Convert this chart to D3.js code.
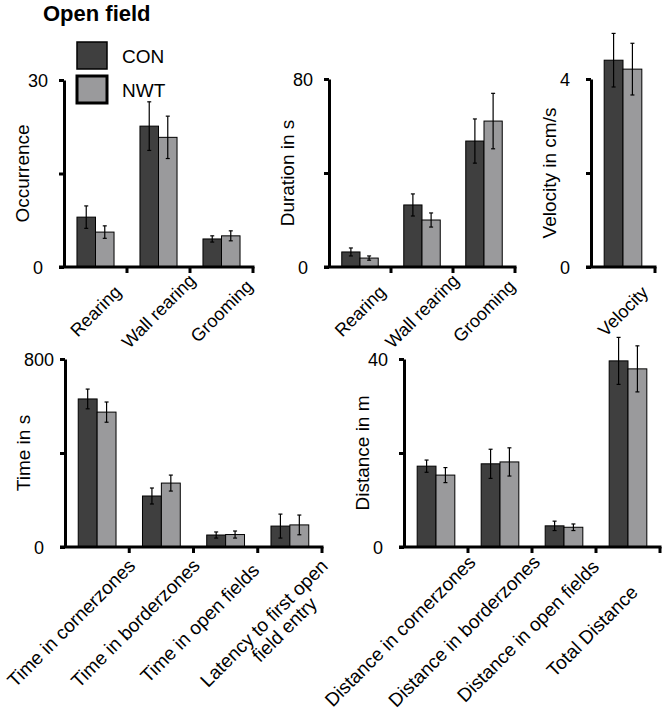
<!DOCTYPE html>
<html>
<head>
<meta charset="utf-8">
<script src="https://cdn.jsdelivr.net/npm/d3@7"></script>
<style>
  html, body { margin: 0; padding: 0; background: #fff; }
  svg { display: block; font-family: "Liberation Sans", Arial, sans-serif; }
</style>
</head>
<body>
<svg id="chart" width="666" height="714"></svg>
<script>
// ---------------- data ----------------
const series = ["CON", "NWT"];

const occCategories = ["Rearing", "Wall rearing", "Grooming"];
const occCON = [8.0, 22.6, 4.5];
const occCONErr = [1.8, 3.9, 0.5];
const occNWT = [5.6, 20.8, 5.0];
const occNWTErr = [1.0, 3.4, 0.8];

const durCategories = ["Rearing", "Wall rearing", "Grooming"];
const durCON = [6.4, 26.4, 53.6];
const durCONErr = [1.7, 4.7, 9.4];
const durNWT = [3.8, 20.0, 62.1];
const durNWTErr = [0.9, 3.0, 11.8];

const velCategories = ["Velocity"];
const velCON = [4.40];
const velCONErr = [0.57];
const velNWT = [4.21];
const velNWTErr = [0.55];

const timeCategories = ["Time in cornerzones", "Time in borderzones", "Time in open fields", "Latency to first open\nfield entry"];
const timeCON = [630, 217, 51, 89];
const timeCONErr = [42, 34, 13, 51];
const timeNWT = [574, 272, 53, 94];
const timeNWTErr = [43, 34, 15, 42];

const distCategories = ["Distance in cornerzones", "Distance in borderzones", "Distance in open fields", "Total Distance"];
const distCON = [17.2, 17.7, 4.5, 39.6];
const distCONErr = [1.3, 3.1, 1.0, 5.0];
const distNWT = [15.3, 18.1, 4.2, 37.9];
const distNWTErr = [1.6, 3.0, 0.7, 4.9];

const yTitles = ["Occurrence", "Duration in s", "Velocity in cm/s", "Time in s", "Distance in m"];
const yMax = [30, 80, 4, 800, 40];

// ---------------- style ----------------
const colors = { CON: "#3f3f3f", NWT: "#9a9a9c" };
const svg = d3.select("#chart");

function drawPanel(cfg) {
  const { left, step, top, bottom, max, cats, con, conErr, nwt, nwtErr, title, k, p, labelSize } = cfg;
  const right = left + step * cats.length;
  const x = d3.scaleBand().domain(cats).range([left, right]).padding(0);
  const xs = d3.scaleBand().domain(series).range([0, x.bandwidth()]).paddingInner(0).paddingOuter(0.7);
  const y = d3.scaleLinear().domain([0, max]).range([bottom, top]);
  const g = svg.append("g");

  const rows = [];
  cats.forEach((c, i) => {
    rows.push({ cat: c, s: "CON", v: con[i], e: conErr[i] });
    rows.push({ cat: c, s: "NWT", v: nwt[i], e: nwtErr[i] });
  });

  // bars
  g.selectAll("rect.bar").data(rows).join("rect")
    .attr("class", "bar")
    .attr("x", d => x(d.cat) + xs(d.s))
    .attr("y", d => y(d.v))
    .attr("width", xs.bandwidth())
    .attr("height", d => y(0) - y(d.v))
    .attr("fill", d => colors[d.s])
    .attr("stroke", "#000")
    .attr("stroke-width", 1);

  // error bars
  const eb = g.selectAll("g.err").data(rows).join("g").attr("class", "err")
    .attr("transform", d => `translate(${x(d.cat) + xs(d.s) + xs.bandwidth() / 2},0)`);
  eb.append("line").attr("x1", 0).attr("x2", 0)
    .attr("y1", d => y(d.v - d.e)).attr("y2", d => y(d.v + d.e))
    .attr("stroke", "#000").attr("stroke-width", 1.2);
  eb.append("line").attr("x1", -2).attr("x2", 2)
    .attr("y1", d => y(d.v + d.e)).attr("y2", d => y(d.v + d.e))
    .attr("stroke", "#000").attr("stroke-width", 1.2);
  eb.append("line").attr("x1", -2).attr("x2", 2)
    .attr("y1", d => y(d.v - d.e)).attr("y2", d => y(d.v - d.e))
    .attr("stroke", "#000").attr("stroke-width", 1.2);

  // y axis
  const yAxis = d3.axisLeft(y).tickValues([0, max / 2, max]).tickSize(5).tickSizeOuter(0)
    .tickFormat(d => (d === max / 2 ? "" : d));
  const ya = g.append("g").attr("transform", `translate(${left},0)`).call(yAxis);
  ya.select(".domain").attr("stroke", "#000").attr("stroke-width", 3);
  ya.selectAll(".tick line").attr("stroke", "#000").attr("stroke-width", 3);
  ya.selectAll(".tick text").attr("x", -26).attr("text-anchor", "middle")
    .attr("font-size", 18).attr("fill", "#000").attr("dy", "0.35em");

  // y title
  g.append("text")
    .attr("transform", `translate(${left - 35},${(top + bottom) / 2}) rotate(-90)`)
    .attr("text-anchor", "middle").attr("font-size", 19).attr("fill", "#000")
    .text(title);

  // x axis line
  g.append("line").attr("x1", left - 5).attr("x2", right + 1.5)
    .attr("y1", bottom).attr("y2", bottom)
    .attr("stroke", "#000").attr("stroke-width", 3);
  // x ticks at category boundaries
  g.selectAll("line.xt").data(cats).join("line").attr("class", "xt")
    .attr("x1", d => x(d) + x.step()).attr("x2", d => x(d) + x.step())
    .attr("y1", bottom).attr("y2", bottom + 6)
    .attr("stroke", "#000").attr("stroke-width", 3);

  // category labels
  const lab = g.selectAll("text.cat").data(cats).join("text").attr("class", "cat")
    .attr("transform", d => `translate(${x(d) + x.bandwidth() / 2 - k + p},${bottom + 44 + k + p}) rotate(-45)`)
    .attr("text-anchor", "middle").attr("font-size", labelSize).attr("fill", "#000");
  lab.each(function (d) {
    const lines = d.split("\n");
    const t = d3.select(this);
    lines.forEach((ln, i) => {
      t.append("tspan").attr("x", i === 0 ? 0 : 10).attr("dy", i === 0 ? "0.35em" : "1.0em").text(ln);
    });
  });
}

drawPanel({ left: 64, step: 63, top: 80, bottom: 267, max: yMax[0], cats: occCategories,
  con: occCON, conErr: occCONErr, nwt: occNWT, nwtErr: occNWTErr, title: yTitles[0], k: 0, p: 0, labelSize: 18 });
drawPanel({ left: 329, step: 62, top: 79, bottom: 267, max: yMax[1], cats: durCategories,
  con: durCON, conErr: durCONErr, nwt: durNWT, nwtErr: durNWTErr, title: yTitles[1], k: 0, p: 0, labelSize: 18 });
drawPanel({ left: 591, step: 64, top: 79, bottom: 267, max: yMax[2], cats: velCategories,
  con: velCON, conErr: velCONErr, nwt: velNWT, nwtErr: velNWTErr, title: yTitles[2], k: 0, p: 0, labelSize: 18 });
drawPanel({ left: 65, step: 64.25, top: 359, bottom: 547, max: yMax[3], cats: timeCategories,
  con: timeCON, conErr: timeCONErr, nwt: timeNWT, nwtErr: timeNWTErr, title: yTitles[3], k: 29, p: 3, labelSize: 19 });
drawPanel({ left: 404, step: 64, top: 359, bottom: 547, max: yMax[4], cats: distCategories,
  con: distCON, conErr: distCONErr, nwt: distNWT, nwtErr: distNWTErr, title: yTitles[4], k: 38, p: 2, labelSize: 19 });

// title
svg.append("text").attr("x", 43).attr("y", 21).attr("font-size", 22).attr("font-weight", "bold")
  .attr("fill", "#000").text("Open field");

// legend
const leg = svg.append("g").selectAll("g").data(series).join("g")
  .attr("transform", (d, i) => `translate(77,${42 + i * 34})`);
leg.append("rect").attr("width", 30).attr("height", 27)
  .attr("fill", d => colors[d]).attr("stroke", "#000")
  .attr("stroke-width", (d, i) => (i === 0 ? 1.5 : 3));
leg.append("text").attr("x", 45).attr("y", 21).attr("font-size", 19).attr("fill", "#000").text(d => d);
</script>
</body>
</html>
